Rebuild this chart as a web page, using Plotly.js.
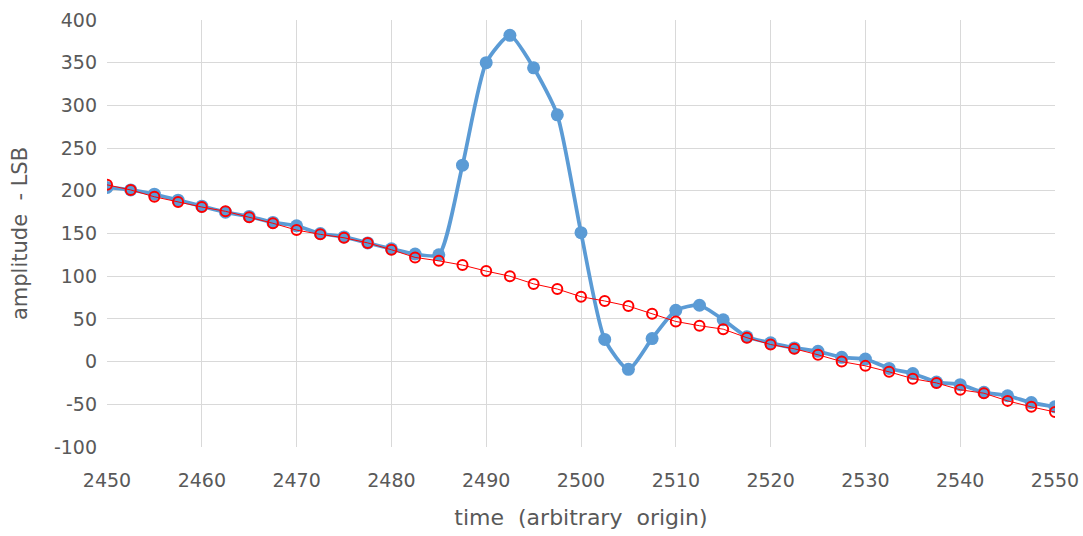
<!DOCTYPE html>
<html>
<head>
<meta charset="utf-8">
<script src="https://cdn.plot.ly/plotly-3.0.1.min.js"></script>
<style>html,body{margin:0;padding:0;background:#fff;}#chart{width:1083px;height:536px;}</style>
</head>
<body>
<div id="chart"></div>
<script>
const time = [2450,2452.5,2455,2457.5,2460,2462.5,2465,2467.5,2470,2472.5,2475,2477.5,2480,2482.5,2485,2487.5,2490,2492.5,2495,2497.5,2500,2502.5,2505,2507.5,2510,2512.5,2515,2517.5,2520,2522.5,2525,2527.5,2530,2532.5,2535,2537.5,2540,2542.5,2545,2547.5,2550];
const measured = [204,201,196,189,182,175,170,163,159,150,146,139,132,126,125,230,350,382,344,289,151,26,-9,27,60,66,49,29,22,16,12,5,3,-8,-14,-24,-27,-36,-40,-48,-53];
const baseline = [207,201,193,187,181,176,169,162,154,149,145,139,131,122,118,113,106,100,91,85,76,71,65,56,47,42,38,28,20,15,8,0,-5,-12,-20,-25,-33,-37,-46,-53,-59];
const yTickVals = [-100,-50,0,50,100,150,200,250,300,350,400];
const yTickText = ['-100','-50','0','50','100','150','200','250','300','350','400'];
const xTickVals = [2450,2460,2470,2480,2490,2500,2510,2520,2530,2540,2550];

const fontFam = 'DejaVu Sans, Liberation Sans, sans-serif';
const traces = [
  {x: time, y: measured, type: 'scatter', mode: 'lines+markers',
   line: {color: '#5B9BD5', width: 3.75, shape: 'spline', smoothing: 0.6},
   marker: {color: '#5B9BD5', size: 13, symbol: 'circle'}, showlegend: false},
  {x: time, y: baseline, type: 'scatter', mode: 'lines+markers',
   line: {color: '#FF0000', width: 1},
   marker: {color: '#FF0000', size: 10, symbol: 'circle-open', line: {width: 2, color: '#FF0000'}}, showlegend: false}
];
const layout = {
  width: 1083, height: 536,
  margin: {l: 107, r: 28, t: 20, b: 89},
  paper_bgcolor: '#fff', plot_bgcolor: '#fff',
  font: {family: fontFam, color: '#595959', size: 19},
  xaxis: {range: [2450, 2550], tickmode: 'array', tickvals: xTickVals, showgrid: true, gridcolor: '#D9D9D9', gridwidth: 1,
          zeroline: false, showline: false, ticks: '', tickfont: {size: 19, color: '#595959'}, ticklabelstandoff: 20,
          title: {text: 'time  (arbitrary  origin)', font: {size: 22, color: '#595959'}, standoff: 19}},
  yaxis: {range: [-100, 400], tickmode: 'array', tickvals: yTickVals, ticktext: yTickText, showgrid: true, gridcolor: '#D9D9D9', gridwidth: 1,
          zeroline: false, showline: false, ticks: '', tickfont: {size: 19, color: '#595959'}, ticklabelstandoff: 9,
          title: {text: 'amplitude  - LSB', font: {size: 21, color: '#595959'}, standoff: 20}}
};
Plotly.newPlot('chart', traces, layout, {displayModeBar: false, staticPlot: true});
</script>
</body>
</html>
